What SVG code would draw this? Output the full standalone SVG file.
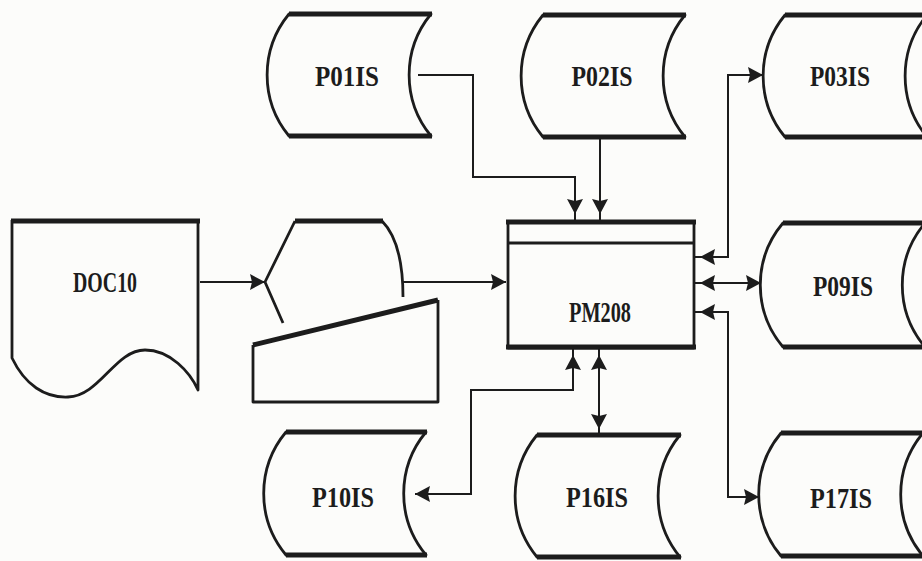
<svg xmlns="http://www.w3.org/2000/svg" width="922" height="561" viewBox="0 0 922 561">
<style>
.bg{fill:#fcfcfa}
.sh{fill:none;stroke:#1c1c1c;stroke-width:2.8;stroke-linejoin:round}
.tk{fill:none;stroke:#1c1c1c;stroke-width:5;stroke-linecap:butt}
.c{fill:none;stroke:#1c1c1c;stroke-width:2}
.t{font-family:"Liberation Serif","DejaVu Serif",serif;font-weight:bold;font-size:29px;fill:#1c1c1c}
</style>
<defs>
<marker id="a" viewBox="0 0 15 16" markerWidth="15" markerHeight="16" refX="15" refY="8" orient="auto-start-reverse" markerUnits="userSpaceOnUse">
<path d="M0,0 L15,8 L0,16 L2,8 Z" fill="#1c1c1c"/>
</marker>
<marker id="ab" viewBox="0 0 21 16" markerWidth="21" markerHeight="16" refX="21" refY="8" orient="auto-start-reverse" markerUnits="userSpaceOnUse">
<path d="M0,0 L15,8 L0,16 L2,8 Z" fill="#1c1c1c"/>
</marker>
</defs>
<rect class="bg" x="0" y="0" width="922" height="561"/>

<g id="connectors">
<path class="c" d="M418,75 H473 V177 H575 V220" marker-end="url(#ab)"/>
<path class="c" d="M600,137 V220" marker-end="url(#ab)"/>
<path class="c" d="M694,257 H728 V75 H763" marker-start="url(#ab)" marker-end="url(#a)"/>
<path class="c" d="M694,283 H761" marker-start="url(#ab)" marker-end="url(#a)"/>
<path class="c" d="M694,312 H728 V497 H759" marker-start="url(#ab)" marker-end="url(#a)"/>
<path class="c" d="M573,349 V390 H471 V494 H415" marker-start="url(#ab)" marker-end="url(#a)"/>
<path class="c" d="M599,349 V435" marker-start="url(#ab)" marker-end="url(#ab)"/>
<path class="c" d="M200,282 H265" marker-end="url(#a)"/>
<path class="c" d="M403,282 H506" marker-end="url(#a)"/>
</g>

<g id="DOC10">
<path class="sh" d="M12,220 V358 C25,385 45,398 68,397 C100,396 115,350 145,350 C170,350 190,372 198,390 V220"/>
<line class="tk" x1="11" y1="221" x2="200" y2="221"/>
<text class="t" x="105" y="292" text-anchor="middle" textLength="64" lengthAdjust="spacingAndGlyphs">DOC10</text>
</g>

<g id="offline">
<path class="sh" d="M265,282 L295,221 M265,282 L283,323 M382,221 C396,235 403,260 403,297"/>
<line class="tk" x1="295" y1="221" x2="383" y2="221"/>
<path class="sh" d="M253,345 V402 H438 V300"/>
<line class="tk" x1="253" y1="345" x2="438" y2="300"/>
</g>

<g id="PM208">
<rect class="sh" x="508" y="222" width="186" height="126" stroke-width="3.2"/>
<line class="tk" x1="506" y1="222" x2="696" y2="222"/>
<line class="tk" x1="506" y1="347" x2="696" y2="347"/>
<line class="sh" x1="508" y1="243" x2="694" y2="243"/>
<text class="t" x="600" y="322" text-anchor="middle" textLength="62" lengthAdjust="spacingAndGlyphs">PM208</text>
</g>

<g id="P01IS">
<path class="sh" d="M289,14 H431 A96,96 0 0 0 431,136 H289 A96,96 0 0 1 289,14 Z"/>
<line class="tk" x1="289" y1="14" x2="432" y2="14"/>
<line class="tk" x1="289" y1="136" x2="432" y2="136"/>
<text class="t" x="347" y="86" text-anchor="middle" textLength="64" lengthAdjust="spacingAndGlyphs">P01IS</text>
</g>

<g id="P02IS">
<path class="sh" d="M543,15 H685 A96,96 0 0 0 685,137 H543 A96,96 0 0 1 543,15 Z"/>
<line class="tk" x1="543" y1="15" x2="686" y2="15"/>
<line class="tk" x1="543" y1="137" x2="686" y2="137"/>
<text class="t" x="602" y="86" text-anchor="middle" textLength="61" lengthAdjust="spacingAndGlyphs">P02IS</text>
</g>

<g id="P03IS">
<path class="sh" d="M785,15 H927 A96,96 0 0 0 927,137 H785 A96,96 0 0 1 785,15 Z"/>
<line class="tk" x1="785" y1="15" x2="930" y2="15"/>
<line class="tk" x1="785" y1="137" x2="930" y2="137"/>
<text class="t" x="840" y="86" text-anchor="middle" textLength="60" lengthAdjust="spacingAndGlyphs">P03IS</text>
</g>

<g id="P09IS">
<path class="sh" d="M783,223 H925 A96,96 0 0 0 925,347 H783 A96,96 0 0 1 783,223 Z"/>
<line class="tk" x1="783" y1="223" x2="930" y2="223"/>
<line class="tk" x1="783" y1="347" x2="930" y2="347"/>
<text class="t" x="843" y="296" text-anchor="middle" textLength="60" lengthAdjust="spacingAndGlyphs">P09IS</text>
</g>

<g id="P10IS">
<path class="sh" d="M286,432 H426 A96,96 0 0 0 426,555 H286 A96,96 0 0 1 286,432 Z"/>
<line class="tk" x1="286" y1="432" x2="427" y2="432"/>
<line class="tk" x1="286" y1="555" x2="427" y2="555"/>
<text class="t" x="343" y="507" text-anchor="middle" textLength="62" lengthAdjust="spacingAndGlyphs">P10IS</text>
</g>

<g id="P16IS">
<path class="sh" d="M537,435 H680 A96,96 0 0 0 680,557 H537 A96,96 0 0 1 537,435 Z"/>
<line class="tk" x1="537" y1="435" x2="681" y2="435"/>
<line class="tk" x1="537" y1="557" x2="681" y2="557"/>
<text class="t" x="597" y="507" text-anchor="middle" textLength="62" lengthAdjust="spacingAndGlyphs">P16IS</text>
</g>

<g id="P17IS">
<path class="sh" d="M781,433 H923 A96,96 0 0 0 923,556 H781 A96,96 0 0 1 781,433 Z"/>
<line class="tk" x1="781" y1="433" x2="930" y2="433"/>
<line class="tk" x1="781" y1="556" x2="930" y2="556"/>
<text class="t" x="841" y="508" text-anchor="middle" textLength="62" lengthAdjust="spacingAndGlyphs">P17IS</text>
</g>
</svg>
